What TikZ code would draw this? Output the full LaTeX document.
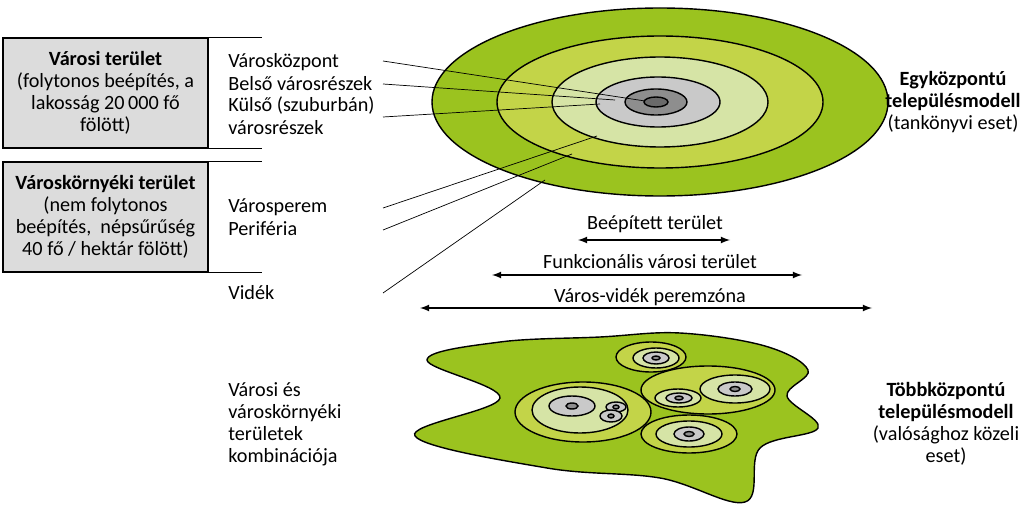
\documentclass[tikz,border=0pt]{standalone}
\usepackage{fontspec}
\setmainfont{Carlito}
\usetikzlibrary{positioning,calc}
\definecolor{zoneA}{HTML}{9BC31F}
\definecolor{zoneB}{HTML}{C3D448}
\definecolor{zoneC}{HTML}{D6E4A6}
\definecolor{zoneD}{HTML}{C9C9C9}
\definecolor{zoneE}{HTML}{8E8E8E}
\definecolor{zoneF}{HTML}{6A6A6A}
\definecolor{boxgray}{HTML}{DCDCDC}
\begin{document}
\begin{tikzpicture}[x=0.02cm,y=-0.02cm,font=\fontsize{11.5}{12.6}\selectfont]
    % `zone' is used for every ring of the towns.
    % `label' is used for the texts beside the rings.
    \tikzset{zone/.style={draw=black,thick},
             label/.style={anchor=west,inner sep=0pt,align=left},
             infobox/.style={fill=boxgray,draw=black,thick,minimum width=4.1cm,minimum height=2.2cm,align=center,inner sep=2pt},
             lead/.style={thin},
             span/.style={thick,<->,>=latex}}
    \useasboundingbox (0,0) rectangle (1023,513);
    %
    % Left boxes.
    \node[infobox] (urban) at (105.5,93) {\textbf{Városi terület}\\(folytonos beépítés, a\\lakosság 20\,000 fő\\fölött)};
    \node[infobox] (suburb) at (105.5,217) {\textbf{Városkörnyéki terület}\\(nem folytonos\\beépítés,~~népsűrűség\\40 fő / hektár fölött)};
    \draw[thick] (urban.north west) -- ++(260,0) (urban.south west) -- ++(260,0)
                 (suburb.north west) -- ++(260,0) (suburb.south west) -- ++(260,0);
    %
    % Single-centre model.
    \fill[zone,fill=zoneA] (660,102) ellipse [x radius=228,y radius=94];
    \fill[zone,fill=zoneB] (660,102) ellipse [x radius=163,y radius=66];
    \fill[zone,fill=zoneC] (660,102) ellipse [x radius=108,y radius=45];
    \fill[zone,fill=zoneD] (658,102) ellipse [x radius=62,y radius=25];
    \fill[zone,fill=zoneE] (656,102) ellipse [x radius=31,y radius=13];
    \fill[zone,fill=zoneF] (656,102) ellipse [x radius=12,y radius=5];
    %
    % Labels and leaders.
    \node[label] (centre) at (228,62) {Városközpont};
    \node[label] (inner) at (228,84) {Belső városrészek};
    \node[label] (outer) at (228,106) {Külső (szuburbán)};
    \node[label] (outer2) at (228,128) {városrészek};
    \node[label] (fringe) at (228,207) {Városperem};
    \node[label] (periph) at (228,229) {Periféria};
    \node[label] (rural) at (228,293) {Vidék};
    \coordinate (c1) at (645,101); \coordinate (c2) at (615,100);
    \coordinate (c3) at (600,104); \coordinate (c4) at (597,136);
    \coordinate (c5) at (572,154); \coordinate (c6) at (545,180);
    \draw[lead] (383,61) -- (c1) (383,84) -- (c2) (383,117) -- (c3)
                (383,208) -- (c4) (383,230) -- (c5) (383,293) -- (c6);
    %
    % Extent arrows.
    \node (built) at (655,224) {Beépített terület};
    \coordinate (b1) at (578,240); \coordinate (b2) at (730,240);
    \draw[span] (b1) -- (b2);
    \node (func) at (650,262) {Funkcionális városi terület};
    \coordinate (f1) at (492,275); \coordinate (f2) at (802,275);
    \draw[span] (f1) -- (f2);
    \node (peri) at (650,297) {Város-vidék peremzóna};
    \coordinate (p1) at (420,308); \coordinate (p2) at (872,308);
    \draw[span] (p1) -- (p2);
    %
    % Right labels.
    \node[align=center] (mono) at (953,102) {\textbf{Egyközpontú}\\\textbf{településmodell}\\(tankönyvi eset)};
    \node[align=center] (poly) at (946,424) {\textbf{Többközpontú}\\\textbf{településmodell}\\(valósághoz közeli\\eset)};
    \node[label] (combo) at (228,424) {Városi és\\városkörnyéki\\területek\\kombinációja};
    %
    % Multi-centre model.
    \filldraw[zone,fill=zoneA] plot[smooth cycle,tension=0.6] coordinates {
      (427,360) (500,342) (600,337) (680,333) (765,346) (808,370) (787,396)
      (818,428) (760,448) (745,502) (660,478) (547,468) (415,436) (500,398)};
    \filldraw[zone,fill=zoneB] (583,412) ellipse [x radius=68,y radius=30];
    \filldraw[zone,fill=zoneC] (580,410) ellipse [x radius=48,y radius=23];
    \filldraw[zone,fill=zoneD] (572,406) ellipse [x radius=23,y radius=10];
    \filldraw[zone,fill=zoneE] (572,406) ellipse [x radius=6,y radius=3];
    \filldraw[zone,fill=zoneD] (616,407) ellipse [x radius=10,y radius=5];
    \filldraw[zone,fill=zoneE] (616,407) ellipse [x radius=3,y radius=2];
    \filldraw[zone,fill=zoneD] (611,416) ellipse [x radius=11,y radius=6];
    \filldraw[zone,fill=zoneE] (611,416) ellipse [x radius=3,y radius=2];
    \filldraw[zone,fill=zoneB] (651,357) ellipse [x radius=35,y radius=15];
    \filldraw[zone,fill=zoneC] (656,358) ellipse [x radius=23,y radius=10];
    \filldraw[zone,fill=zoneD] (656,358) ellipse [x radius=13,y radius=6];
    \filldraw[zone,fill=zoneE] (656,358) ellipse [x radius=4,y radius=2];
    \filldraw[zone,fill=zoneB] (708,390) ellipse [x radius=67,y radius=24];
    \filldraw[zone,fill=zoneC] (735,389) ellipse [x radius=35,y radius=14];
    \filldraw[zone,fill=zoneD] (735,389) ellipse [x radius=17,y radius=7];
    \filldraw[zone,fill=zoneE] (735,389) ellipse [x radius=5,y radius=2.5];
    \filldraw[zone,fill=zoneC] (678,398) ellipse [x radius=23,y radius=9];
    \filldraw[zone,fill=zoneD] (679,398) ellipse [x radius=13,y radius=5];
    \filldraw[zone,fill=zoneE] (679,398) ellipse [x radius=4,y radius=2];
    \filldraw[zone,fill=zoneB] (689,434) ellipse [x radius=48,y radius=19];
    \filldraw[zone,fill=zoneC] (689,434) ellipse [x radius=33,y radius=13];
    \filldraw[zone,fill=zoneD] (689,434) ellipse [x radius=15,y radius=7];
    \filldraw[zone,fill=zoneE] (689,434) ellipse [x radius=5,y radius=2.5];
\end{tikzpicture}
\end{document}
